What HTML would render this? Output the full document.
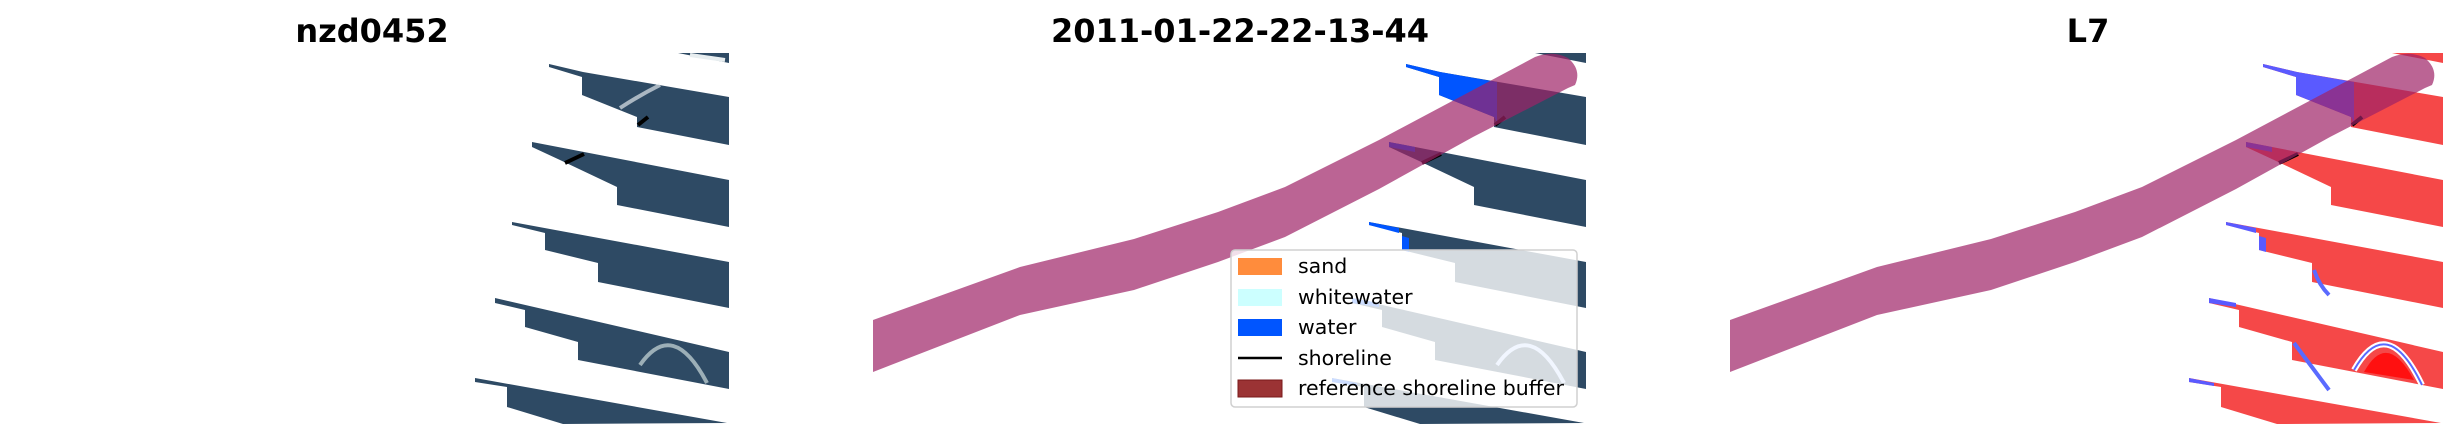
<!DOCTYPE html>
<html><head><meta charset="utf-8"><style>
html,body{margin:0;padding:0;background:#fff;}
svg{display:block;}
text{font-family:"DejaVu Sans","Liberation Sans",sans-serif;}
</style></head><body>
<svg width="2460" height="441" viewBox="0 0 2460 441" xmlns="http://www.w3.org/2000/svg">
<defs>
<g id="st">
<polygon points="678,53 729,53 729,63"/>
<polygon points="549,64 583,72 729,97 729,145 637,127 637,117 582,95 582,77 549,67"/>
<polygon points="532,142 729,180 729,227 617,205 617,187 560,160 532,147"/>
<polygon points="512,222 729,262 729,308 598,282 598,263 545,250 545,233 512,225"/>
<polygon points="495,298 729,352 729,389 578,360 578,342 525,327 525,310 495,303"/>
<polygon points="475,378 727,423 563,424 507,407 507,387 475,382"/>
</g>
<g id="tips">
<polygon points="549,64 583,72 640,82 640,122 637,117 582,95 582,77 549,67"/>
<polygon points="532,142 558,147 558,152 532,147"/>
<polygon points="512,222 542,228 542,233 512,225"/>
<polygon points="545,236 552,238 552,252 545,250"/>
<polygon points="495,298 522,303 522,307 495,303"/>
<polygon points="475,378 500,383 500,386 475,382"/>
</g>
<path id="band" d="M873,320 L1020,267 L1134,239 L1218,212 L1285,187 L1379,140 L1473,90 L1535,57 Q1553,50 1568,58 Q1582,70 1575,85 L1568,88 L1473,137 L1379,189 L1285,237 L1218,262 L1134,290 L1020,315 L873,372 Z"/>
</defs>

<text x="372" y="42" font-size="32" font-weight="bold" text-anchor="middle">nzd0452</text>
<text x="1240" y="42" font-size="32" font-weight="bold" text-anchor="middle">2011-01-22-22-13-44</text>
<text x="2088" y="42" font-size="32" font-weight="bold" text-anchor="middle">L7</text>

<!-- Panel 1 -->
<use href="#st" fill="#2e4a64"/>
<path d="M640,365 Q673,318 707,383" stroke="#b8c8cc" stroke-width="4" fill="none" opacity="0.8"/>
<path d="M690,55 L725,60" stroke="#e8eef0" stroke-width="4"/>
<path d="M620,108 Q640,95 660,85" stroke="#dfe6ea" stroke-width="4" fill="none" opacity="0.7"/>
<path d="M638,125 L648,117 M565,163 L584,154" stroke="#000" stroke-width="4"/>

<!-- Panel 2 -->
<g transform="translate(857,0)">
<use href="#st" fill="#2e4a64"/>
<use href="#tips" fill="#0055ff"/>
<path d="M640,365 Q673,318 707,383" stroke="#b8d0ff" stroke-width="4" fill="none"/>
<path d="M638,125 L648,117 M565,163 L584,154" stroke="#000" stroke-width="4"/>
</g>
<use href="#band" fill="rgb(158,34,102)" fill-opacity="0.7"/>

<!-- Legend -->
<rect x="1231" y="250" width="346" height="157" rx="4" fill="#fff" fill-opacity="0.8" stroke="#d0d0d0" stroke-width="1.5"/>
<rect x="1238" y="258" width="44" height="17" fill="#ff8c3c"/>
<rect x="1238" y="289" width="44" height="17" fill="#ccffff"/>
<rect x="1238" y="319" width="44" height="17" fill="#0055ff"/>
<line x1="1238" y1="358" x2="1282" y2="358" stroke="#000" stroke-width="2.5"/>
<rect x="1238" y="380" width="44" height="17" fill="#9b3334" stroke="#7a1a1a" stroke-width="1"/>
<g font-size="20.5" fill="#000">
<text x="1298" y="273">sand</text>
<text x="1298" y="304">whitewater</text>
<text x="1298" y="334">water</text>
<text x="1298" y="365">shoreline</text>
<text x="1298" y="395">reference shoreline buffer</text>
</g>

<!-- Panel 3 -->
<g transform="translate(1714,0)">
<use href="#st" fill="#f54848"/>
<use href="#tips" fill="#5a5aff"/>
<path d="M600,270 Q605,285 615,295 M580,343 Q600,370 615,390" stroke="#5a6aff" stroke-width="4" fill="none"/>
<path d="M640,370 Q673,312 708,385" stroke="#ffffff" stroke-width="6" fill="none"/>
<path d="M640,370 Q673,312 708,385" stroke="#5a6aff" stroke-width="2" fill="none"/>
<path d="M650,372 Q673,330 700,380 Z" fill="#ff1010"/>
<path d="M638,125 L648,117 M565,163 L584,154" stroke="#000" stroke-width="4"/>
</g>
<g transform="translate(857,0)"><use href="#band" fill="rgb(158,34,102)" fill-opacity="0.7"/></g>
</svg>
</body></html>
